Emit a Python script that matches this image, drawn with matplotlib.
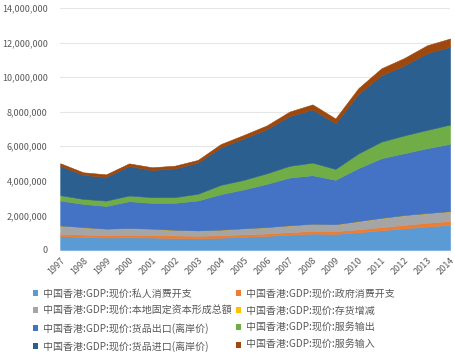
import numpy as np
import matplotlib
matplotlib.use("Agg")
import matplotlib.pyplot as plt
from matplotlib.ticker import FuncFormatter
from matplotlib.patches import Patch

plt.rcParams['font.family'] = ['Noto Sans CJK SC', 'DejaVu Sans']

years = list(range(1997, 2015))

# 单位: 百万港元 (图中数值)
private_cons = [800000, 750000, 720000, 730000, 720000, 690000, 670000, 710000, 760000,
                810000, 890000, 950000, 930000, 1020000, 1140000, 1250000, 1360000, 1450000]
gov_cons = [130000, 140000, 140000, 150000, 150000, 150000, 150000, 140000, 140000,
            140000, 140000, 150000, 160000, 170000, 180000, 200000, 210000, 230000]
gfcf = [470000, 420000, 360000, 370000, 350000, 310000, 290000, 310000, 340000,
        360000, 380000, 400000, 380000, 460000, 520000, 550000, 550000, 550000]
inventory = [10000, 5000, 5000, 10000, 5000, 8000, 10000, 8000, 5000,
             5000, 10000, 5000, 10000, 15000, 10000, 10000, 10000, 10000]
goods_exp = [1450000, 1350000, 1320000, 1560000, 1500000, 1570000, 1740000, 2060000, 2260000,
             2510000, 2770000, 2820000, 2580000, 3070000, 3460000, 3590000, 3760000, 3900000]
serv_exp = [310000, 290000, 310000, 330000, 330000, 330000, 390000, 540000, 550000,
            610000, 680000, 730000, 630000, 850000, 960000, 1030000, 1060000, 1120000]
goods_imp = [1700000, 1390000, 1370000, 1700000, 1570000, 1660000, 1800000, 2170000, 2400000,
             2550000, 2880000, 3080000, 2640000, 3440000, 3840000, 4050000, 4450000, 4500000]
serv_imp = [150000, 150000, 150000, 160000, 160000, 160000, 160000, 190000, 200000,
            220000, 260000, 290000, 280000, 340000, 400000, 430000, 450000, 480000]

labels = ['中国香港:GDP:现价:私人消费开支', '中国香港:GDP:现价:政府消费开支',
          '中国香港:GDP:现价:本地固定资本形成总額', '中国香港:GDP:现价:存货增减',
          '中国香港:GDP:现价:货品出口(离岸价)', '中国香港:GDP:现价:服务输出',
          '中国香港:GDP:现价:货品进口(离岸价)', '中国香港:GDP:现价:服务输入']
colors = ['#5B9BD5', '#ED7D31', '#A5A5A5', '#FFC000',
          '#4472C4', '#70AD47', '#2A5F8F', '#9E480E']

series = [private_cons, gov_cons, gfcf, inventory, goods_exp, serv_exp, goods_imp, serv_imp]

fig = plt.figure(figsize=(4.56, 3.53), dpi=100)
ax = fig.add_axes([0.132, 0.292, 0.855, 0.685])

polys = ax.stackplot(years, *series, colors=colors, linewidth=0.4)
for p, c in zip(polys, colors):
    p.set_edgecolor(c)

ax.set_xlim(1997, 2014)
ax.set_ylim(0, 14000000)
ax.set_yticks(np.arange(0, 14000001, 2000000))
ax.yaxis.set_major_formatter(FuncFormatter(lambda v, p: f'{int(v):,}'))
ax.set_xticks(years)
ax.set_xticklabels([str(y) for y in years], rotation=45, ha='right',
                   rotation_mode='anchor')
ax.tick_params(axis='both', length=0, labelsize=6.5, colors='#595959')
ax.tick_params(axis='y', pad=9)
ax.tick_params(axis='x', pad=4)
ax.grid(axis='y', color='#E6E6E6', linewidth=0.8)
ax.set_axisbelow(True)
for s in ax.spines.values():
    s.set_visible(False)

# 图例: 两列, 按行排列
order = [0, 2, 4, 6, 1, 3, 5, 7]
handles = [Patch(facecolor=colors[i], edgecolor='none') for i in order]
fig.legend(handles, [labels[i] for i in order], ncol=2, loc='upper left',
           bbox_to_anchor=(0.072, 0.183), frameon=False, fontsize=7.2,
           handlelength=0.55, handleheight=0.55, handletextpad=0.5,
           columnspacing=0.35, labelspacing=0.72, labelcolor='#595959',
           borderaxespad=0, borderpad=0)

fig.savefig('out.png', dpi=100)
